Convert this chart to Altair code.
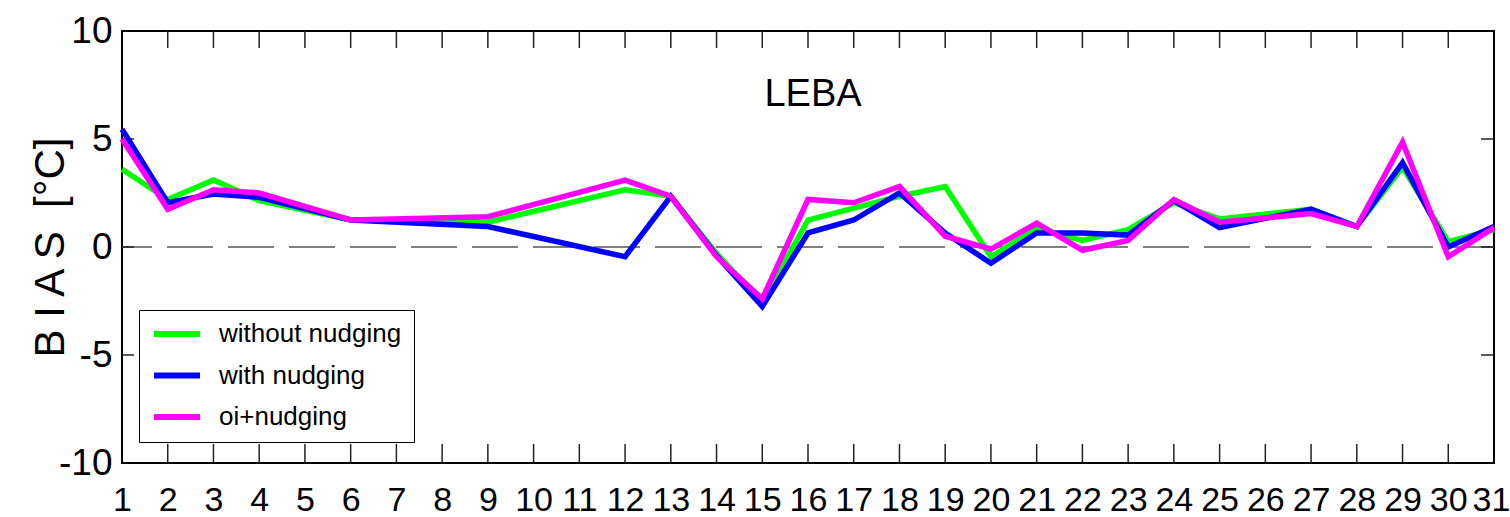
import altair as alt
import pandas as pd

# ---------------- data ----------------
days = [1, 2, 3, 4, 6, 9, 12, 13, 14, 15, 16, 17, 18, 19, 20, 21, 22, 23, 24, 25, 27, 28, 29, 30, 31]
without_nudging = [3.6, 2.2, 3.1, 2.15, 1.25, 1.15, 2.65, 2.35, -0.3, -2.55, 1.25, 1.8, 2.35, 2.8,
                   -0.45, 0.85, 0.3, 0.8, 2.05, 1.3, 1.75, 0.95, 3.7, 0.25, 0.8]
with_nudging = [5.45, 2.05, 2.45, 2.3, 1.25, 0.95, -0.45, 2.35, -0.4, -2.75, 0.65, 1.25, 2.5, 0.65,
                -0.75, 0.65, 0.65, 0.55, 2.15, 0.9, 1.75, 0.95, 3.9, 0.0, 0.95]
oi_nudging = [5.0, 1.75, 2.65, 2.5, 1.25, 1.4, 3.1, 2.35, -0.45, -2.4, 2.2, 2.05, 2.8, 0.5,
              -0.1, 1.1, -0.15, 0.3, 2.2, 1.15, 1.55, 0.95, 4.85, -0.45, 0.9]

series_names = ["without nudging", "with nudging", "oi+nudging"]
series_colors = ["#00ff00", "#0000ff", "#ff00ff"]

x_label_values = list(range(1, 32))
y_label_values = [-10, -5, 0, 5, 10]
inner_x_ticks = list(range(2, 31))
inner_y_ticks = [-5, 0, 5]
zero_line = [0]

title_text = "LEBA"
y_title = "B I A S \u00a0[°C]"

# ---------------- tables ----------------
rows = []
for name, vals in zip(series_names, [without_nudging, with_nudging, oi_nudging]):
    for d, v in zip(days, vals):
        rows.append({"day": d, "bias": v, "series": name})
df = pd.DataFrame(rows)
xt = pd.DataFrame({"t": inner_x_ticks})
yt = pd.DataFrame({"t": inner_y_ticks})
zl = pd.DataFrame({"z": zero_line})
tt = pd.DataFrame({"label": [title_text]})

W, H = 1372, 432
FONT = "Liberation Sans, Arial, sans-serif"
TICK = "#222222"

xscale = alt.Scale(domain=[1, 31], nice=False, zero=False)
yscale = alt.Scale(domain=[-10, 10], nice=False, zero=False)

xaxis = alt.Axis(
    values=x_label_values, ticks=False, grid=False, domain=False, title=None,
    labelFontSize=34, labelFont=FONT, labelColor="black", labelPadding=20,
    labelFlush=False, labelOverlap=False, labelBound=False,
    labelOffset={"condition": {"test": "datum.value == 31", "value": -3}, "value": 0},
)
yaxis = alt.Axis(
    values=y_label_values, ticks=False, grid=False, domain=False,
    labelFontSize=37, labelFont=FONT, labelColor="black", labelPadding=10,
    labelFlush=False, labelOverlap=False, labelBound=False,
    labelExpr="toString(datum.value)",
    title=y_title, titleFont=FONT, titleFontSize=42, titleFontWeight="normal",
    titleColor="black", titleAngle=270, titleX=-72, titleY=216,
    titleAlign="center", titleBaseline="middle",
)

zero = alt.Chart(zl).mark_rule(color="#555555", strokeWidth=1.3, strokeDash=[46, 15]).encode(
    y=alt.Y("z:Q", scale=yscale, axis=yaxis)
)

bottom_ticks = alt.Chart(xt).mark_rule(color=TICK, strokeWidth=1.5).encode(
    x=alt.X("t:Q", scale=xscale, axis=xaxis), y=alt.value(H), y2=alt.value(H - 19)
)
top_ticks = alt.Chart(xt).mark_rule(color=TICK, strokeWidth=1.5).encode(
    x=alt.X("t:Q", scale=xscale, axis=xaxis), y=alt.value(0), y2=alt.value(17)
)
left_ticks = alt.Chart(yt).mark_rule(color=TICK, strokeWidth=1.5).encode(
    y=alt.Y("t:Q", scale=yscale, axis=yaxis), x=alt.value(0), x2=alt.value(12)
)
right_ticks = alt.Chart(yt).mark_rule(color=TICK, strokeWidth=1.5).encode(
    y=alt.Y("t:Q", scale=yscale, axis=yaxis), x=alt.value(W), x2=alt.value(W - 13)
)

lines = alt.Chart(df).mark_line(strokeWidth=5.5).encode(
    x=alt.X("day:Q", scale=xscale, axis=xaxis),
    y=alt.Y("bias:Q", scale=yscale, axis=yaxis),
    color=alt.Color(
        "series:N",
        scale=alt.Scale(domain=series_names, range=series_colors),
        sort=series_names,
        legend=alt.Legend(
            title=None, orient="none", legendX=17, legendY=279, direction="vertical",
            symbolType="stroke", symbolSize=2116, symbolStrokeWidth=6, clipHeight=24,
            labelFontSize=26, labelFont=FONT, labelColor="black", labelOffset=16,
            labelLimit=0, strokeColor="black", fillColor="white", padding=12,
            rowPadding=15.5,
        ),
    ),
)

title = alt.Chart(tt).mark_text(fontSize=38, font=FONT, color="black", align="center", baseline="middle").encode(
    x=alt.value(691), y=alt.value(64), text="label:N"
)

chart = (
    alt.layer(zero, bottom_ticks, top_ticks, left_ticks, right_ticks, lines, title)
    .properties(
        width=W, height=H,
        padding={"left": 122, "top": 31, "right": 16, "bottom": 54},
        autosize=alt.AutoSizeParams(type="none"),
    )
    .configure(background="white")
    .configure_view(stroke="black", strokeWidth=2)
)

chart.save("out.html", embed_options={"renderer": "svg", "actions": False})
